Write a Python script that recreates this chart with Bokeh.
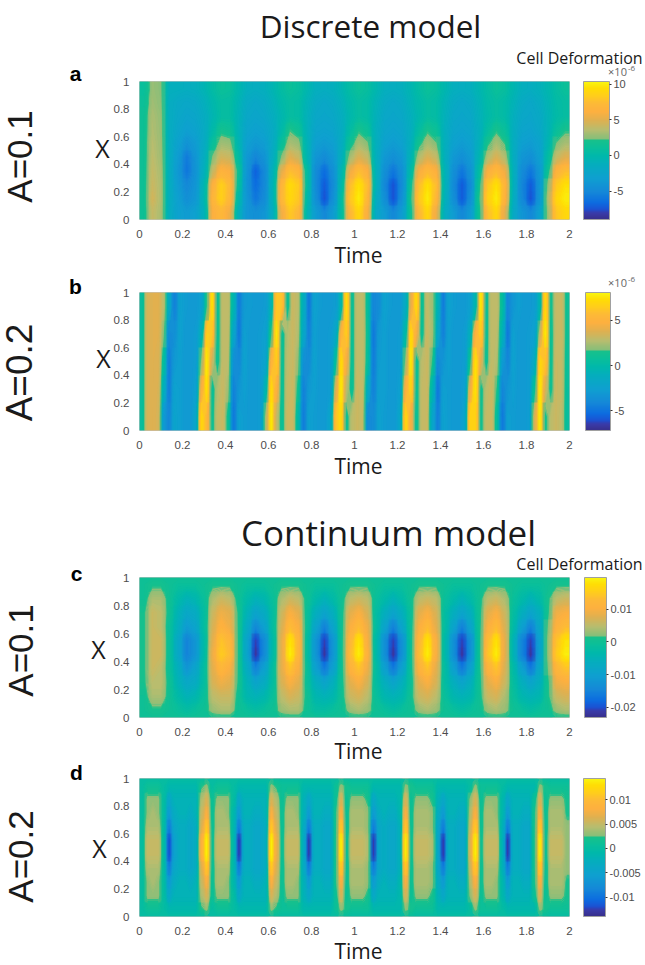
import math
import numpy as np
from bokeh.embed import file_html
from bokeh.layouts import column
from bokeh.models import AllLabels, ColorBar, FixedTicker, Label, LinearColorMapper, Range1d
from bokeh.plotting import figure
from bokeh.resources import INLINE

TIME_TICKS = [0, 0.2, 0.4, 0.6, 0.8, 1, 1.2, 1.4, 1.6, 1.8, 2]
TIME_LABELS = ["0", "0.2", "0.4", "0.6", "0.8", "1", "1.2", "1.4", "1.6", "1.8", "2"]
X_TICKS = [0, 0.2, 0.4, 0.6, 0.8, 1]
X_LABELS = ["0", "0.2", "0.4", "0.6", "0.8", "1"]

# Panel a, unit 1e-7, rows from X=0.05 to X=0.95, columns every 0.04 of Time
A_ROWS = [
 [15,40,32,-15,-30,-35,-30,-10,60,70,55,-10,-40,-45,-40,-15,55,80,70,-5,-35,-50,-35,5,70,90,60,-20,-35,-50,-35,10,70,90,55,-15,-35,-50,-35,15,75,90,50,-20,-40,-50,-30,30,80,90],
 [15,45,33,-15,-32,-45,-38,-5,68,85,70,0,-40,-60,-48,-10,70,90,80,0,-45,-75,-45,5,80,100,70,-15,-45,-75,-45,15,80,100,70,-10,-45,-72,-45,20,85,100,65,-15,-50,-75,-40,35,90,100],
 [15,42,33,-15,-35,-50,-40,-5,62,85,72,10,-42,-65,-50,-8,68,92,82,5,-48,-72,-48,0,75,95,75,-10,-50,-75,-48,10,75,95,75,-8,-48,-72,-48,15,80,95,68,-12,-52,-72,-40,28,82,95],
 [15,40,32,-15,-38,-60,-42,-12,40,65,60,15,-40,-70,-50,-10,50,75,68,5,-48,-65,-45,-5,55,75,62,-10,-45,-60,-45,0,58,72,62,-8,-45,-60,-42,5,60,72,55,-12,-48,-60,-38,15,65,75],
 [15,38,30,-15,-35,-58,-40,-15,25,45,42,5,-38,-52,-42,-15,25,50,42,-5,-40,-48,-38,-12,32,48,40,-12,-38,-45,-38,-8,35,48,40,-12,-38,-45,-36,-5,35,48,35,-15,-40,-45,-32,5,40,50],
 [15,36,29,-15,-30,-42,-35,-18,10,30,28,-5,-32,-38,-34,-18,10,32,28,-8,-32,-36,-32,-15,15,32,25,-12,-30,-35,-30,-12,18,32,24,-12,-30,-35,-30,-10,20,32,22,-15,-32,-35,-28,-5,24,32],
 [15,34,28,-15,-25,-32,-28,-18,0,18,14,-8,-26,-30,-27,-18,0,22,14,-10,-26,-28,-26,-16,4,20,12,-12,-25,-28,-25,-14,5,20,12,-12,-25,-28,-25,-12,6,20,10,-14,-26,-28,-22,-8,10,20],
 [15,33,27,-15,-22,-26,-24,-16,-5,5,5,-8,-22,-25,-22,-14,-4,6,4,-10,-22,-24,-22,-14,-2,6,3,-10,-22,-24,-22,-12,-2,6,3,-10,-22,-24,-22,-10,0,6,2,-12,-22,-24,-20,-8,2,6],
 [12,30,25,-15,-20,-22,-20,-12,-2,6,5,-6,-18,-22,-18,-10,0,6,4,-8,-18,-22,-18,-10,0,6,3,-8,-18,-22,-18,-8,0,6,3,-8,-18,-22,-18,-8,2,6,2,-8,-18,-22,-16,-6,3,6],
 [10,28,24,-12,-12,-14,-12,-6,4,12,10,-2,-12,-14,-12,-5,5,12,8,-3,-12,-14,-12,-5,5,12,8,-3,-12,-14,-12,-5,5,12,8,-3,-12,-14,-12,-4,5,12,8,-4,-12,-14,-10,-3,6,12],
]

# Panel b, unit 1e-7, rows at X=0.1, 0.3, 0.5, 0.7, 0.9, columns every 0.025 of Time
B_ROWS = [
 [5,35,38,35,-30,-42,-22,-26,-30,-30,-20,70,55,10,30,32,10,-48,-25,-28,-30,-30,-28,25,78,30,8,32,32,0,-46,-25,-28,-30,-30,-20,60,72,10,28,32,30,-40,-38,-24,-28,-30,-30,-18,70,45,8,30,32,-20,-45,-24,-28,-30,-30,-22,68,68,10,30,32,5,-48,-26,-28,-30,-30,-28,35,78,12,28,32,28,5],
 [5,35,38,36,-10,-46,-24,-26,-30,-30,-25,45,75,8,26,32,22,-44,-32,-26,-30,-30,-28,-5,72,48,8,30,32,12,-44,-30,-26,-30,-30,-28,35,78,28,8,32,30,-15,-44,-26,-26,-30,-30,-25,48,68,8,30,32,-5,-48,-26,-28,-30,-30,-26,42,76,10,28,32,15,-42,-32,-26,-30,-30,-28,8,78,35,10,32,30,6],
 [5,35,38,37,5,-46,-30,-26,-30,-30,-28,20,78,32,10,30,28,-36,-40,-24,-30,-30,-28,-22,50,65,8,28,32,20,-36,-38,-24,-30,-30,-28,5,72,45,8,30,30,5,-46,-28,-26,-30,-30,-28,22,78,8,28,32,15,-40,-32,-26,-30,-30,-28,10,75,38,10,30,26,-28,-42,-24,-30,-30,-28,-15,70,60,8,32,30,8],
 [5,35,38,38,18,-40,-36,-24,-30,-30,-28,-10,65,62,8,30,30,-20,-48,-26,-30,-30,-28,-25,15,78,8,26,32,26,-18,-44,-26,-30,-30,-28,-18,50,65,8,30,30,8,-48,-30,-26,-30,-30,-28,0,72,45,8,32,24,-20,-44,-26,-30,-30,-28,-10,50,65,8,30,28,-8,-48,-25,-30,-30,-28,-25,30,78,8,30,32,10],
 [5,35,38,38,28,-15,-44,-24,-28,-30,-30,-25,15,75,8,30,30,-5,-46,-30,-28,-30,-30,-28,-8,62,60,8,32,28,-12,-48,-24,-28,-30,-30,-28,-5,75,8,30,30,5,-42,-38,-24,-28,-30,-30,-15,40,72,8,30,22,-8,-46,-24,-28,-30,-30,-25,-5,78,8,30,30,5,-42,-32,-26,-30,-30,-28,-5,72,10,30,32,10],
]

# Panel c, unit 1e-3, rows from X=0.05 to X=0.95, columns every 0.04 of Time
C_ROWS = [
 [0,1,1,0,-1,-2,-1,0,3,4,4,0,-1,-2,-1,0,3,4,4,0,-2,-2,-1,0,3,4,3,0,-1,-2,-1,0,3,4,3,0,-1,-2,-1,0,3,4,3,0,-1,-2,-1,0,3,4],
 [0,4,4,0,-3,-5,-4,-1,5,6,6,0,-4,-5,-4,-1,5,7,6,0,-4,-5,-4,0,6,7,5,-1,-4,-5,-4,0,6,7,5,-1,-4,-5,-4,0,6,7,4,-1,-4,-5,-4,1,6,7],
 [1,5,5,0,-5,-8,-7,-2,7,9,8,1,-5,-9,-7,-2,7,10,8,-1,-6,-9,-6,0,8,10,7,-2,-6,-9,-6,-1,8,10,7,-2,-6,-9,-6,0,8,10,6,-2,-6,-9,-6,1,9,10],
 [1,6,5,-1,-6,-12,-9,-2,8,12,10,1,-7,-15,-10,-2,8,14,10,-1,-10,-16,-10,0,11,14,9,-2,-10,-16,-10,-1,11,14,8,-2,-10,-16,-10,0,11,14,7,-3,-10,-16,-8,2,12,14],
 [1,6,6,-1,-8,-15,-12,-3,9,15,13,1,-9,-22,-14,-3,8,19,12,-2,-12,-22,-12,0,13,19,11,-3,-13,-22,-13,-1,13,19,10,-3,-13,-22,-13,0,14,19,8,-5,-15,-22,-10,3,15,19],
 [1,6,6,-1,-8,-15,-12,-3,8,14,12,1,-9,-21,-14,-3,8,18,12,-2,-12,-21,-12,0,12,18,10,-3,-13,-21,-13,-1,12,18,10,-3,-13,-21,-13,0,13,18,8,-5,-15,-21,-10,3,14,18],
 [1,6,5,-1,-6,-11,-9,-2,7,11,9,1,-7,-14,-10,-2,7,13,10,-1,-9,-15,-9,0,10,13,9,-2,-9,-15,-9,-1,10,13,8,-2,-9,-15,-9,0,10,13,7,-3,-10,-15,-8,2,11,13],
 [1,6,5,0,-5,-8,-7,-2,6,9,8,1,-5,-9,-7,-2,6,10,8,-1,-6,-9,-6,0,8,10,7,-2,-6,-9,-6,-1,8,10,7,-2,-6,-9,-6,0,8,10,6,-2,-6,-9,-6,1,9,10],
 [0,4,4,0,-3,-5,-4,-1,4,6,5,0,-3,-5,-4,-1,4,6,5,0,-3,-5,-3,0,5,6,5,-1,-3,-5,-3,0,5,6,5,-1,-3,-5,-3,0,5,6,4,-1,-3,-5,-3,1,5,6],
 [0,1,1,0,-1,-1,-1,0,1,1,1,0,-1,-1,-1,0,1,1,1,0,-1,-1,-1,0,1,1,1,0,-1,-1,-1,0,1,1,1,0,-1,-1,-1,0,1,1,1,0,-1,-1,-1,0,1,1],
]

# Panel d, unit 1e-3, from the rim to the middle of X, columns every 0.025 of Time
D_RIM = [0,1,1,1,0,-1,-1,-1,-1,-1,-1,2,3,0,1,1,1,0,-1,-1,-1,-1,-1,-1,3,2,1,1,1,1,-1,-1,-1,-1,-1,-1,1,3,2,1,1,1,1,-1,-1,-1,-1,-1,-1,3,2,1,1,1,1,-1,-1,-1,-1,-1,-1,0,3,1,1,1,1,0,-1,-1,-1,-1,-1,-1,3,2,1,1,1,1]
D_OUTER = [0,3,3,3,0,-4,-2,-2,-2,-2,-2,4,6,1,3,3,3,0,-4,-2,-2,-2,-2,-2,6,4,1,3,3,3,-2,-4,-2,-2,-2,-2,1,6,1,3,3,3,2,-4,-2,-2,-2,-2,-1,6,1,3,3,3,2,-2,-4,-2,-2,-2,-2,3,6,1,3,3,3,-1,-4,-2,-2,-2,-2,1,6,1,3,3,3,2]
D_QUARTER = [0,3,4,3,0,-6,-3,-2,-2,-3,-2,5,8,1,4,4,3,-1,-6,-2,-2,-3,-3,-2,8,5,1,4,4,3,-2,-6,-2,-2,-3,-3,2,8,1,4,4,4,3,-6,-3,-2,-3,-3,-1,8,1,4,4,4,3,-3,-6,-2,-2,-3,-3,4,8,1,4,4,3,-1,-6,-2,-2,-3,-3,2,8,1,4,4,4,2]
D_INNER = [0,4,4,4,0,-9,-4,-3,-3,-4,-3,6,11,1,4,4,4,-1,-9,-3,-3,-4,-4,-3,11,6,1,4,4,4,-3,-9,-3,-3,-4,-4,2,11,1,4,4,4,3,-9,-4,-3,-4,-4,-2,11,1,4,4,4,3,-4,-9,-3,-3,-4,-4,5,11,1,4,4,4,-2,-9,-3,-3,-4,-4,2,11,1,4,4,4,3]
D_CORE = [0,5,5,5,0,-12,-5,-3,-3,-4,-3,8,14,1,5,5,5,-1,-13,-3,-3,-4,-4,-3,14,7,1,5,5,5,-3,-13,-3,-3,-4,-4,2,14,1,5,5,5,4,-13,-4,-3,-4,-4,-2,14,1,5,5,5,4,-4,-13,-3,-3,-4,-4,6,14,1,5,5,5,-2,-13,-3,-3,-4,-4,2,14,1,5,5,5,3]
D_ROWS = [D_RIM, D_OUTER, D_QUARTER, D_INNER, D_CORE, D_CORE, D_INNER, D_QUARTER, D_OUTER, D_RIM]

A_TICKS, A_TICK_LABELS = [100, 50, 0, -50], ["10", "5", "0", "-5"]
B_TICKS, B_TICK_LABELS = [50, 0, -50], ["5", "0", "-5"]
C_TICKS, C_TICK_LABELS = [10, 0, -10, -20], ["0.01", "0", "-0.01", "-0.02"]
D_TICKS, D_TICK_LABELS = [10, 5, 0, -5, -10], ["0.01", "0.005", "0", "-0.005", "-0.01"]

STOPS = [(0.0, "#38308c"), (0.045, "#3a3aa8"), (0.07, "#1c50d2"), (0.12, "#0c6ce0"), (0.2, "#1588d8"),
         (0.3, "#0fa0d0"), (0.4, "#05aebd"), (0.46, "#00b8ab"), (0.52, "#0abf9a"), (0.578, "#18c08a"),
         (0.582, "#84be7a"), (0.65, "#b7bd6f"), (0.72, "#dfb050"), (0.78, "#fdb040"), (0.84, "#fdb938"),
         (0.9, "#ffce1a"), (0.95, "#ffdc05"), (1.0, "#f9f50f")]


def build_palette(n):
    pos = [s[0] for s in STOPS]
    rgb = np.array([[int(s[1][i:i + 2], 16) for i in (1, 3, 5)] for s in STOPS], float)
    out = []
    for f in np.linspace(0, 1, n):
        c = [int(round(np.interp(f, pos, rgb[:, k]))) for k in range(3)]
        out.append("#%02x%02x%02x" % tuple(c))
    return out


PALETTE = build_palette(256)
BANDS = build_palette(96)
INK = "#1a1a1a"
TICK = "#4d4d4d"
WIDTH, HEIGHT = 645, 965
LEFT, RIGHT = 139, 569


def panel(rows, low, high, ticks, tick_labels, page_top, page_bottom, f_top, f_bottom, bar_left, bar_w, rim):
    p = figure(width=WIDTH, height=page_bottom - page_top, output_backend="svg", toolbar_location=None,
               x_range=Range1d(0, 2), y_range=Range1d(0, 1), frame_align=False,
               min_border_left=LEFT, min_border_right=WIDTH - RIGHT,
               min_border_top=f_top - page_top, min_border_bottom=page_bottom - f_bottom)
    mapper = LinearColorMapper(palette=PALETTE, low=low, high=high)
    z = np.array(rows, dtype=float)
    p.image(image=[z], x=0, y=0, dw=2, dh=1, color_mapper=mapper)
    nr, nc = z.shape
    gx = np.concatenate(([0.0], (np.arange(nc) + 0.5) / nc * 2, [2.0]))
    gy = np.concatenate(([0.0], (np.arange(nr) + 0.5) / nr, [1.0]))
    gz = np.pad(z, 1, mode="edge")
    if rim:
        gz[0, :] = 0
        gz[-1, :] = 0
    p.contour(gx, gy, gz, levels=list(np.linspace(low, high, len(BANDS) + 1)), fill_color=BANDS)
    p.grid.visible = False
    p.outline_line_color = "#c4c4c4"
    for ax, tk, lb in ((p.xaxis[0], TIME_TICKS, TIME_LABELS), (p.yaxis[0], X_TICKS, X_LABELS)):
        ax.ticker = FixedTicker(ticks=tk)
        ax.major_label_overrides = dict(zip(tk, lb))
        ax.axis_line_color = None
        ax.major_tick_line_color = None
        ax.minor_tick_line_color = None
        ax.major_label_text_font = "Liberation Sans"
        ax.major_label_text_font_size = "11.5px"
        ax.major_label_text_color = TICK
        ax.major_label_standoff = 4
    bar = ColorBar(color_mapper=mapper, location=(bar_left - LEFT, 0), width=bar_w,
                   height=f_bottom - f_top, padding=0, margin=0, major_label_policy=AllLabels(),
                   ticker=FixedTicker(ticks=ticks), major_label_overrides=dict(zip(ticks, tick_labels)),
                   major_label_text_font="Liberation Sans", major_label_text_font_size="11px",
                   major_label_text_color=TICK, major_tick_line_color="#333333", major_tick_in=0,
                   major_tick_out=2, minor_tick_line_color=None, bar_line_color="#a0a0a0", label_standoff=2,
                   background_fill_color=None, border_line_color=None)
    p.add_layout(bar, "center")
    return p


pa = panel(A_ROWS, -90, 104, A_TICKS, A_TICK_LABELS, 0, 260, 81, 219, 583, 26, False)
pb = panel(B_ROWS, -72, 81, B_TICKS, B_TICK_LABELS, 260, 486, 292, 430, 585, 25, False)
pc = panel(C_ROWS, -23.2, 19.8, C_TICKS, C_TICK_LABELS, 486, 763, 577, 717, 584, 22, True)
pd = panel(D_ROWS, -13.9, 14.3, D_TICKS, D_TICK_LABELS, 763, 965, 778, 916, 583, 22, True)

# A transparent sheet over the whole page carries the free texts
sheet = figure(width=WIDTH, height=HEIGHT, output_backend="svg", toolbar_location=None,
               x_range=Range1d(0, WIDTH), y_range=Range1d(HEIGHT, 0), x_axis_type=None, y_axis_type=None,
               min_border=0, margin=(-HEIGHT, 0, 0, 0), outline_line_color=None, frame_align=False,
               background_fill_alpha=0, border_fill_alpha=0)
sheet.grid.visible = False


def text(s, px, py, size, font="Open Sans", color=INK, style="normal", angle=0.0):
    sheet.add_layout(Label(x=px, y=py, text=s, text_font=font, text_font_size=size, text_color=color,
                           text_font_style=style, text_align="center", text_baseline="middle", angle=angle))


text("Discrete model", 370, 25, "31.5px")
text("a", 75, 73, "21px", "Liberation Sans", "#000000", "bold")
text("X", 102, 147, "25px")
text("A=0.1", 19, 156, "35px", "Liberation Sans", angle=math.pi / 2)
text("Time", 358, 254, "21px")
text("Cell Deformation", 579, 57, "16px")
text("\u00d710", 617, 71, "11px", color="#666666")
text("-6", 631, 68, "8px", color="#666666")
text("b", 75, 286, "21px", "Liberation Sans", "#000000", "bold")
text("X", 103, 357, "25px")
text("A=0.2", 19, 372, "37px", "Liberation Sans", angle=math.pi / 2)
text("Time", 358, 465, "21px")
text("\u00d710", 617, 282, "11px", color="#666666")
text("-6", 631, 279, "8px", color="#666666")
text("Continuum model", 388, 532, "35px")
text("c", 76, 573, "21px", "Liberation Sans", "#000000", "bold")
text("X", 98, 648, "25px")
text("A=0.1", 20, 650, "35px", "Liberation Sans", angle=math.pi / 2)
text("Time", 358, 750, "21px")
text("Cell Deformation", 579, 563, "16px")
text("d", 76, 772, "21px", "Liberation Sans", "#000000", "bold")
text("X", 99, 847, "25px")
text("A=0.2", 20, 856, "35px", "Liberation Sans", angle=math.pi / 2)
text("Time", 358, 950, "21px")

page = column(pa, pb, pc, pd, sheet, spacing=0)
open("out.html", "w").write(file_html(page, INLINE))
